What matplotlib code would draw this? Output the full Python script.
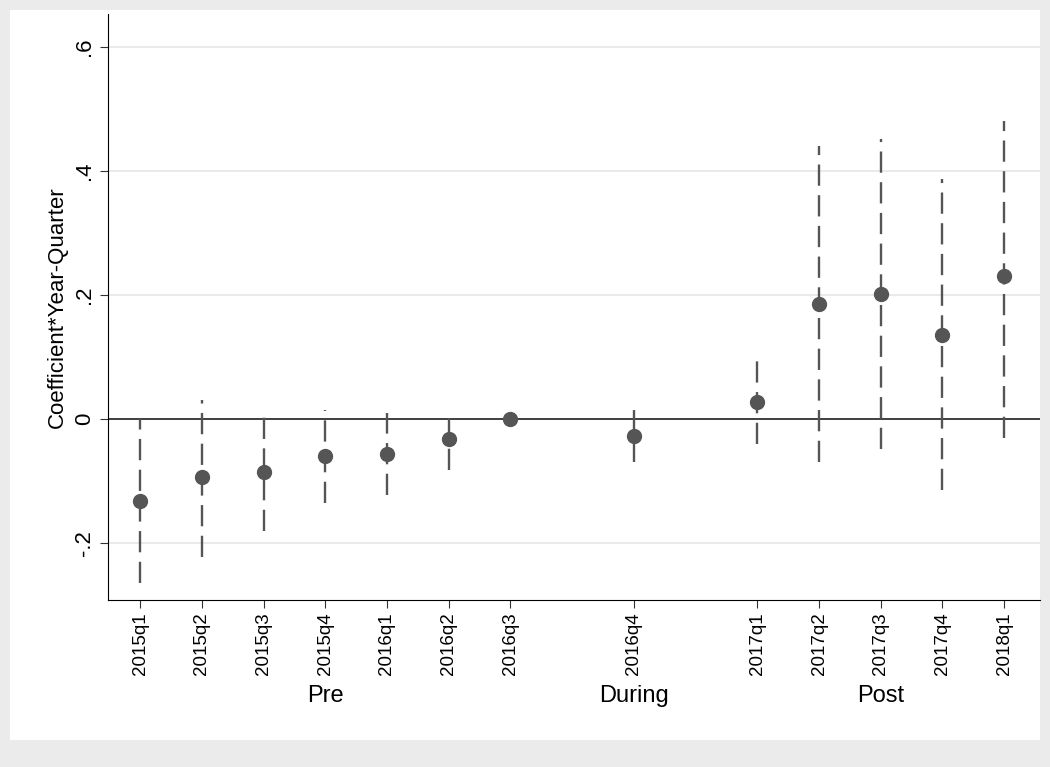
import matplotlib.pyplot as plt

plt.rcParams['font.family'] = ['Liberation Sans', 'DejaVu Sans']

quarters = ['2015q1', '2015q2', '2015q3', '2015q4', '2016q1', '2016q2', '2016q3',
            '2016q4', '2017q1', '2017q2', '2017q3', '2017q4', '2018q1']
xpos = [0, 1, 2, 3, 4, 5, 6, 8, 10, 11, 12, 13, 14]
coef = [-0.133, -0.093, -0.086, -0.060, -0.057, -0.033, 0.0,
        -0.027, 0.028, 0.185, 0.202, 0.135, 0.231]
lower = [-0.265, -0.222, -0.180, -0.135, -0.122, -0.083, 0.0,
         -0.070, -0.040, -0.070, -0.048, -0.115, -0.030]
upper = [0.000, 0.030, 0.008, 0.015, 0.010, 0.015, 0.0,
         0.015, 0.095, 0.440, 0.452, 0.387, 0.480]
groups = ['Pre', 'During', 'Post']
group_pos = [3, 8, 12]

fig = plt.figure(figsize=(10.5, 7.67), dpi=100, facecolor='#ebebeb')
fig.patches.append(plt.Rectangle((10/1050, 1-740/767), 1030/1050, 730/767,
                                 transform=fig.transFigure, facecolor='white',
                                 edgecolor='none', zorder=-10))
ax = fig.add_axes([108/1050, 1-600/767, 932/1050, 586/767])
ax.set_zorder(5)
ax.set_facecolor('white')

ax.vlines(xpos, lower, upper, colors='#555555', linestyles=(0, (9, 4)), linewidth=1.7, zorder=2)
ax.plot(xpos, coef, 'o', color='#555555', markersize=10, zorder=3)
ax.axhline(0, color='#333333', linewidth=1.3, zorder=1)

ax.set_xlim(-0.52, 14.58)
ax.set_ylim(-0.292, 0.653)
ax.set_yticks([-0.2, 0, 0.2, 0.4, 0.6])
ax.set_yticklabels(['-.2', '0', '.2', '.4', '.6'], rotation=90, va='center', fontsize=16)
ax.grid(axis='y', color='#e6e6e6', linewidth=1.2)
ax.set_axisbelow(True)
ax.set_xticks(xpos)
ax.set_xticklabels(quarters, rotation=90, fontsize=13.5)
ax.tick_params(length=6, color='#333333')
ax.tick_params(axis='x', pad=3)
for s in ['top', 'right']:
    ax.spines[s].set_visible(False)
ax.set_ylabel('Coefficient*Year-Quarter', fontsize=16)

for g, p in zip(groups, group_pos):
    ax.text(p, -(696-600)/586, g, transform=ax.get_xaxis_transform(),
            ha='center', va='center', fontsize=17)

fig.savefig('out.png', facecolor=fig.get_facecolor())
